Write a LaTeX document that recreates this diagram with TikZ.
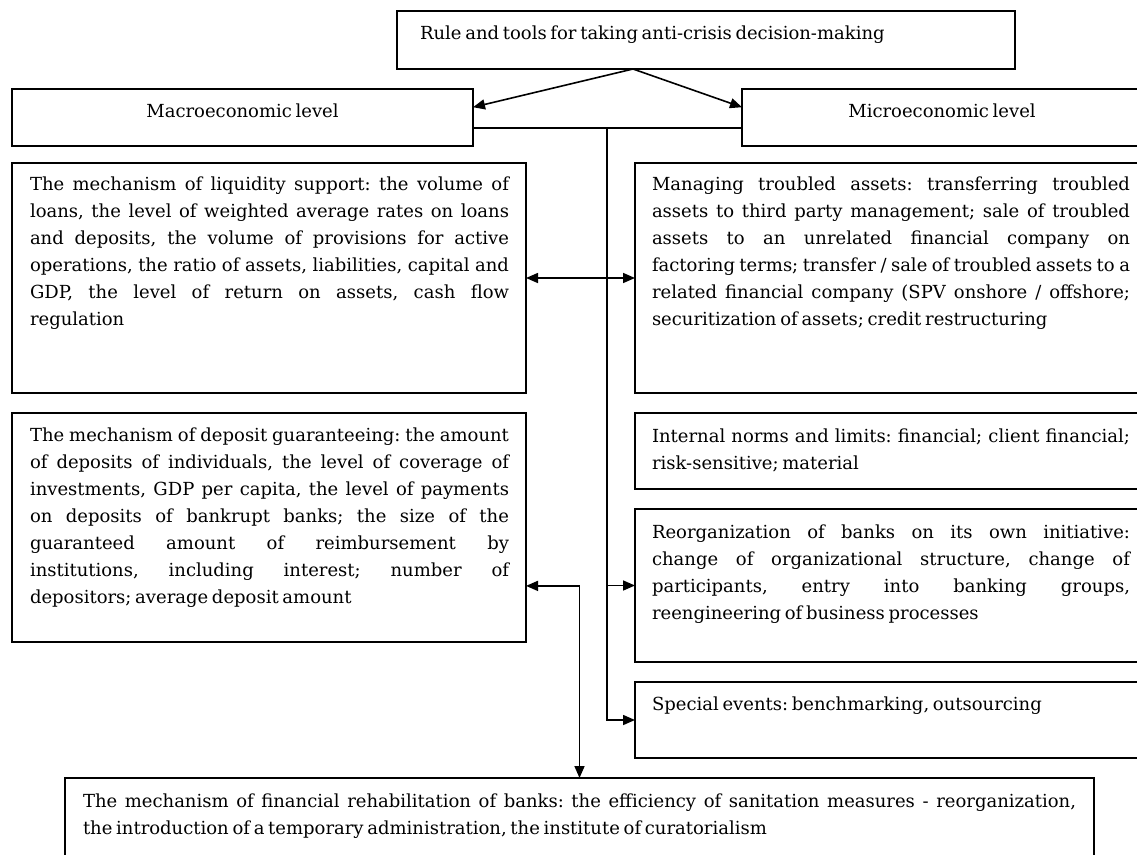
\documentclass[tikz,border=0pt]{standalone}
\usepackage{fontspec}
\setmainfont{DejaVu Serif}[WordSpace=0.65]
\usetikzlibrary{arrows.meta,calc}
\hyphenpenalty=10000
\exhyphenpenalty=10000
\tolerance=10000
\frenchspacing
\begin{document}
\begin{tikzpicture}[x=1pt,y=-1pt,
  box/.style={draw=black, line width=1.7pt, rectangle, inner sep=0pt, outer sep=0pt, anchor=north west},
  lbl/.style={inner sep=0pt, outer sep=0pt, anchor=base, font=\fontsize{18}{27}\selectfont},
  para/.style={inner sep=0pt, outer sep=0pt, anchor=base west, align=justify, text width=#1, font=\fontsize{18}{27}\selectfont},
  link/.style={line width=1.6pt},
  arr/.style={link, -{Triangle[length=12pt,width=10pt]}},
  darr/.style={link, {Triangle[length=12pt,width=10pt]}-{Triangle[length=12pt,width=10pt]}}]
\fill[white] (0,0) rectangle (1137,854);
\useasboundingbox (0,0) rectangle (1137,854);
\begin{scope}
\clip (0,0) rectangle (1137,854);
% boxes
\node[box, minimum width=618pt, minimum height=58pt] (top) at (397,11) {};
\node[box, minimum width=461pt, minimum height=57pt] (macro) at (12,89) {};
\node[box, minimum width=400pt, minimum height=57pt] (micro) at (742,89) {};
\node[box, minimum width=514pt, minimum height=230pt] (L1) at (12,163) {};
\node[box, minimum width=512pt, minimum height=230pt] (R1) at (635,163) {};
\node[box, minimum width=514pt, minimum height=229pt] (L2) at (12,413) {};
\node[box, minimum width=512pt, minimum height=76pt] (R2) at (635,413) {};
\node[box, minimum width=512pt, minimum height=153pt] (R3) at (635,509) {};
\node[box, minimum width=512pt, minimum height=76pt] (R4) at (635,682) {};
\node[box, minimum width=1029pt, minimum height=110pt] (bot) at (65,778) {};
% texts
\node[lbl, anchor=base west] (topt) at ($(top.north west)+(23,28)$) {Rule and tools for taking anti-crisis decision-making};
\node[lbl] (macrot) at ($(macro.north)+(0,28)$) {Macroeconomic level};
\node[lbl] (microt) at ($(micro.north)+(0,28)$) {Microeconomic level};
\node[para=479pt] (L1t) at ($(L1.north west)+(18,27)$) {The mechanism of liquidity support: the volume of\linebreak
loans, the level of weighted average rates on loans\linebreak
and deposits, the volume of provisions for active\linebreak
operations, the ratio of assets, liabilities, capital and\linebreak
GDP, the level of return on assets, cash flow\linebreak
regulation};
\node[para=478pt] (R1t) at ($(R1.north west)+(17,27)$) {Managing troubled assets: transferring troubled\linebreak
assets to third party management; sale of troubled\linebreak
assets to an unrelated financial company on\linebreak
factoring terms; transfer / sale of troubled assets to a\linebreak
related financial company (SPV onshore / offshore;\linebreak
securitization of assets; credit restructuring};
\node[para=479pt] (L2t) at ($(L2.north west)+(18,28)$) {The mechanism of deposit guaranteeing: the amount\linebreak
of deposits of individuals, the level of coverage of\linebreak
investments, GDP per capita, the level of payments\linebreak
on deposits of bankrupt banks; the size of the\linebreak
guaranteed amount of reimbursement by\linebreak
institutions, including interest; number of\linebreak
depositors; average deposit amount};
\node[para=478pt] (R2t) at ($(R2.north west)+(17,29)$) {Internal norms and limits: financial; client financial;\linebreak
risk-sensitive; material};
\node[para=478pt] (R3t) at ($(R3.north west)+(17,29)$) {Reorganization of banks on its own initiative:\linebreak
change of organizational structure, change of\linebreak
participants, entry into banking groups,\linebreak
reengineering of business processes};
\node[para=478pt] (R4t) at ($(R4.north west)+(17,28)$) {Special events: benchmarking, outsourcing};
\node[para=993pt] (bott) at ($(bot.north west)+(18,29)$) {The mechanism of financial rehabilitation of banks: the efficiency of sanitation measures - reorganization,\linebreak
the introduction of a temporary administration, the institute of curatorialism};
% connectors
\coordinate (apex) at (633,69);
\draw[arr] (apex) -- ($(macro.north east)!0.32!(macro.south east)$);
\draw[arr] (apex) -- ($(micro.north west)!0.32!(micro.south west)$);
\coordinate (hl) at ($(macro.north east)!0.68!(macro.south east)$);
\coordinate (hr) at ($(micro.north west)!0.68!(micro.south west)$);
\draw[link] (hl) -- (hr);
\coordinate (spine) at (607,128);
\draw[arr] (spine) |- (R4.west);
\draw[arr] (spine |- R3.west) -- (R3.west);
\draw[darr] (L1.east) -- (R1.west);
\coordinate (l2p) at ($(L2.north east)!0.755!(L2.south east)$);
\draw[darr] (l2p) -| (bot.north);
\end{scope}
\end{tikzpicture}
\end{document}
